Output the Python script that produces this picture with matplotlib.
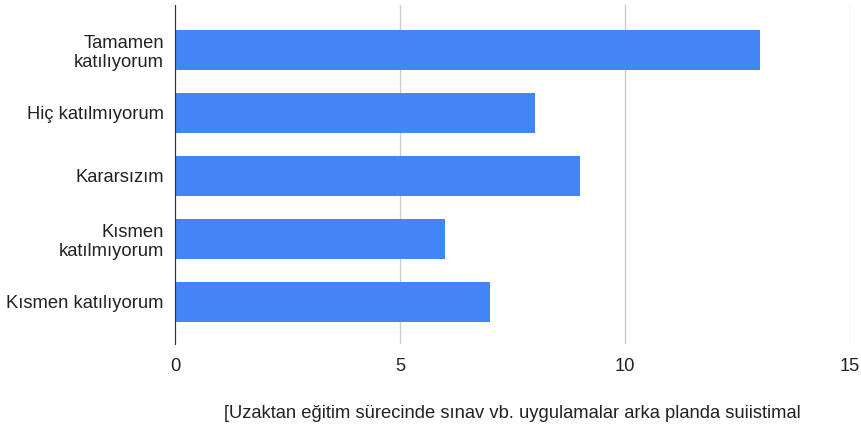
import matplotlib.pyplot as plt

categories = ["Tamamen\nkatılıyorum", "Hiç katılmıyorum", "Kararsızım",
              "Kısmen\nkatılmıyorum", "Kısmen katılıyorum"]
values = [13, 8, 9, 6, 7]
x_ticks = [0, 5, 10, 15]
title = "[Uzaktan eğitim sürecinde sınav vb. uygulamalar arka planda suiistimal"

plt.rcParams["font.family"] = ["Liberation Sans", "DejaVu Sans"]

fig = plt.figure(figsize=(8.62, 4.29), dpi=100)
ax = fig.add_axes([175 / 862, 1 - 344 / 429, 675 / 862, 339 / 429])

pos = list(range(len(categories)))
ax.barh(pos, values, height=0.65, color="#4285F4", zorder=3)

ax.set_xlim(0, 15)
ax.set_ylim(4.667, -0.714)
ax.set_xticks(x_ticks)
ax.set_xticklabels([str(t) for t in x_ticks])
ax.set_yticks(pos)
ax.set_yticklabels(categories, linespacing=1.15)
ax.tick_params(length=0, labelsize=13.2, colors="#222222")
ax.tick_params(axis="x", pad=10)
ax.tick_params(axis="y", pad=8)

ax.grid(axis="x", color="#cccccc", linewidth=1, zorder=0)
for s in ["top", "right", "bottom"]:
    ax.spines[s].set_visible(False)
ax.spines["left"].set_color("#333333")
ax.spines["left"].set_zorder(4)

ax.set_xlabel(title, fontsize=13.2, color="#222222", labelpad=22)

fig.savefig("out.png", dpi=100)
